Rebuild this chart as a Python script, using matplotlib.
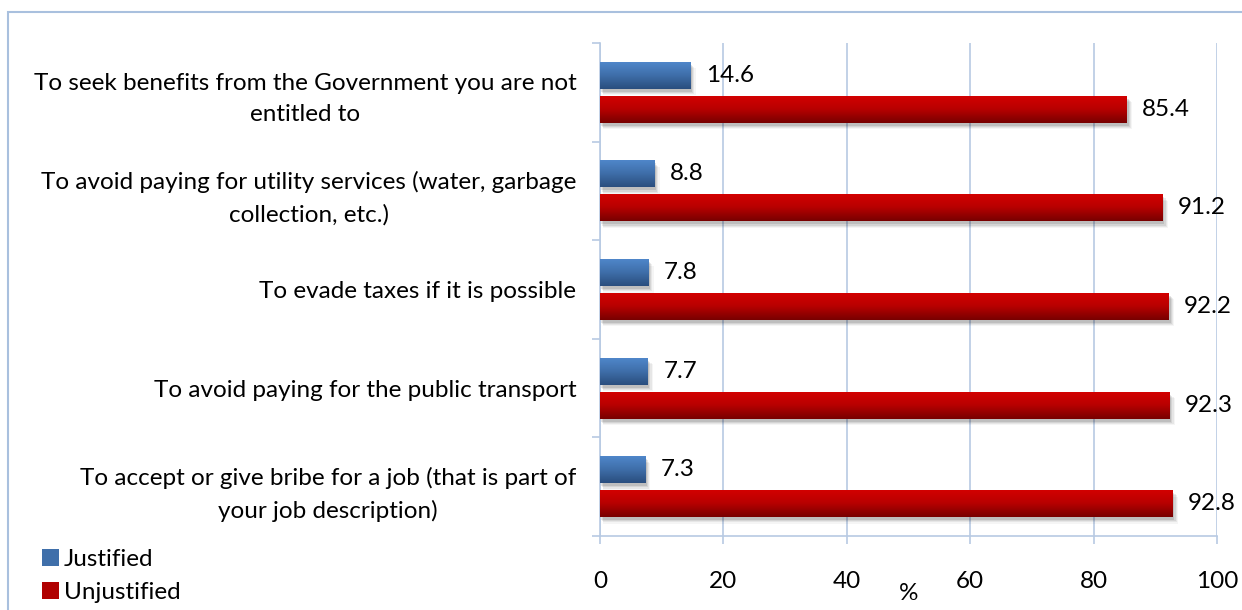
import numpy as np
import matplotlib
matplotlib.use("Agg")
import matplotlib.pyplot as plt
from matplotlib.colors import LinearSegmentedColormap
from matplotlib.patches import Rectangle, Patch
from matplotlib.ticker import FixedLocator

plt.rcParams['font.family'] = ['Lato', 'DejaVu Sans']

categories = [
    "To seek benefits from the Government you are not\nentitled to",
    "To avoid paying for utility services (water, garbage\ncollection, etc.)",
    "To evade taxes if it is possible",
    "To avoid paying for the public transport",
    "To accept or give bribe for a job (that is part of\nyour job description)",
]
justified = [14.6, 8.8, 7.8, 7.7, 7.3]
unjustified = [85.4, 91.2, 92.2, 92.3, 92.8]
series_names = ["Justified", "Unjustified"]
x_ticks = [0, 20, 40, 60, 80, 100]

blue_cmap = LinearSegmentedColormap.from_list("blue_grad", ["#5088CC", "#3F6FAA", "#2A4E7E"])
red_cmap = LinearSegmentedColormap.from_list("red_grad", ["#D40000", "#B80000", "#780000"])

FS = 17.5
W, H = 1242, 610
fig = plt.figure(figsize=(W / 100, H / 100), dpi=100)
ax = fig.add_axes([600 / W, 1 - 536 / H, (1217 - 600) / W, (536 - 43) / H])

grid_color = "#B7CAE3"
bar_h = 0.274
offset = 0.172
y = np.arange(len(categories))

grad = np.linspace(0, 1, 64).reshape(-1, 1)


def gradient_bar(yc, val, cmap):
    top = yc - bar_h / 2
    bottom = yc + bar_h / 2
    # soft drop shadow
    for k, a in zip(range(4), [0.10, 0.08, 0.06, 0.04]):
        dx = 0.35 + 0.25 * k
        dy = 0.03 + 0.012 * k
        ax.add_patch(Rectangle((dx * 0.5, top + dy), val + dx * 0.3, bar_h,
                               facecolor="black", edgecolor="none", alpha=a, zorder=2))
    bars = ax.barh([yc], [val], height=bar_h, color="none", edgecolor="none", zorder=3)
    img = ax.imshow(grad, extent=(0, val, bottom, top), cmap=cmap, aspect="auto",
                    interpolation="bilinear", zorder=3)
    img.set_clip_path(bars[0])
    return bars


for i in range(len(categories)):
    gradient_bar(y[i] - offset, justified[i], blue_cmap)
    gradient_bar(y[i] + offset, unjustified[i], red_cmap)
    ax.text(justified[i] + 2.6, y[i] - offset, f"{justified[i]:.1f}", va="center", ha="left",
            fontsize=FS, color="black", zorder=5)
    ax.text(unjustified[i] + 2.4, y[i] + offset, f"{unjustified[i]:.1f}", va="center", ha="left",
            fontsize=FS, color="black", zorder=5)

ax.set_xlim(0, 100)
ax.set_ylim(len(categories) - 0.5, -0.5)
ax.set_xticks(x_ticks)
ax.set_xticklabels([str(t) for t in x_ticks], fontsize=FS)
ax.set_xlabel("%", fontsize=FS, labelpad=-6)
ax.set_yticks(y)
ax.set_yticklabels(categories, fontsize=FS, multialignment="center", linespacing=1.6)
ax.yaxis.set_minor_locator(FixedLocator(np.arange(len(categories) + 1) - 0.5))
ax.tick_params(axis="y", which="major", length=0, pad=17)
ax.tick_params(axis="y", which="minor", length=6, color=grid_color, width=1.2)
ax.tick_params(axis="x", which="major", length=6, color=grid_color, width=1.2, pad=19)
ax.grid(axis="x", color=grid_color, linewidth=1.2, zorder=0)
ax.set_axisbelow(True)
for side in ["top", "right"]:
    ax.spines[side].set_visible(False)
for side in ["left", "bottom"]:
    ax.spines[side].set_color(grid_color)
    ax.spines[side].set_linewidth(1.2)

handles = [Patch(facecolor="#3F6FAA", edgecolor="none"),
           Patch(facecolor="#B00000", edgecolor="none")]
fig.legend(handles, series_names, loc="lower left", bbox_to_anchor=(20 / W, -15 / H),
           frameon=False, fontsize=FS, handlelength=0.7, handleheight=0.7,
           handletextpad=0.2, labelspacing=0.5)

fig.patches.append(Rectangle((8 / W, -0.2), 2.0, 1.2 - 12 / H, transform=fig.transFigure,
                             fill=False, edgecolor="#A9C0DE", linewidth=1.5))

fig.savefig("out.png", dpi=100)
